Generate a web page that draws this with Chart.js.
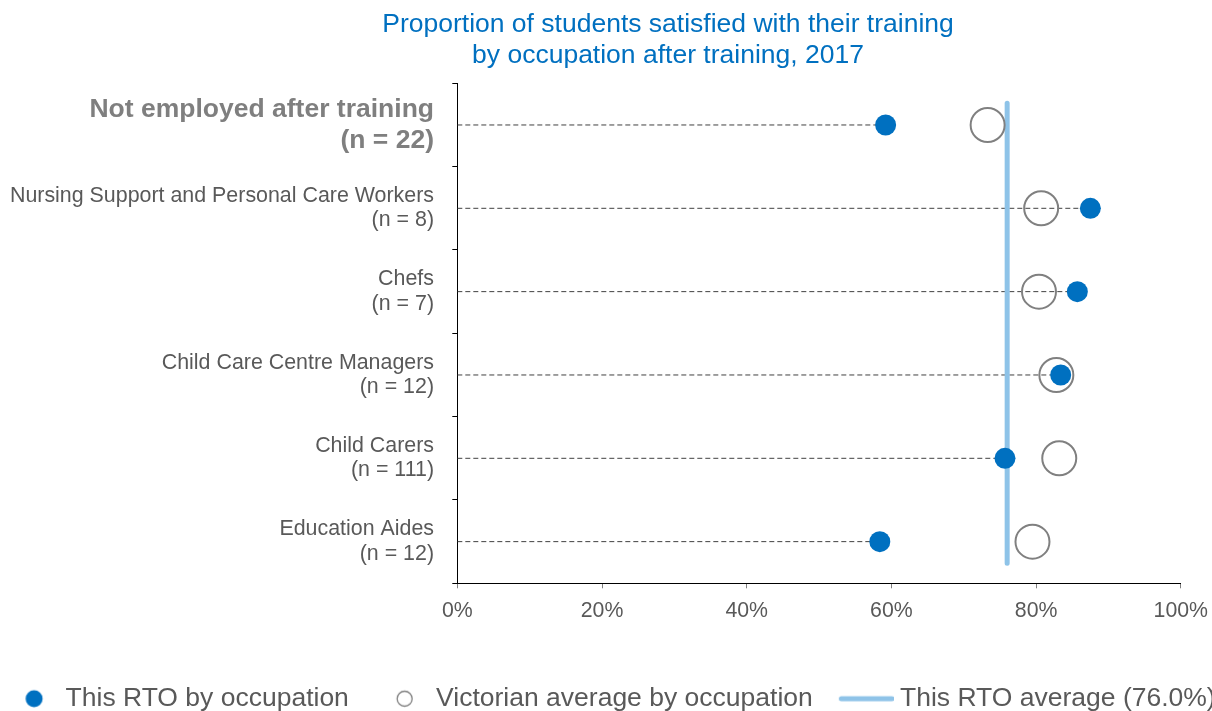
<!DOCTYPE html>
<html>
<head>
<meta charset="utf-8">
<title>Proportion of students satisfied with their training</title>
<style>
  html, body { margin: 0; padding: 0; background: #fff; overflow: hidden; }
  #wrap { position: absolute; left: -40px; top: 0; width: 1280px; height: 726px; }
</style>
</head>
<body>
<div id="wrap"><canvas id="chart" width="1280" height="726"></canvas></div>
<script src="https://cdn.jsdelivr.net/npm/chart.js@4.4.1/dist/chart.umd.min.js"></script>
<script>
const occupations = [
  'Not employed after training',
  'Nursing Support and Personal Care Workers',
  'Chefs',
  'Child Care Centre Managers',
  'Child Carers',
  'Education Aides'
];
const sampleSizes = [22, 8, 7, 12, 111, 12];
const rtoValues = [59.2, 87.5, 85.7, 83.4, 75.7, 58.4];
const vicValues = [73.3, 80.7, 80.4, 82.8, 83.2, 79.5];
const rtoAverage = 76.0;

Chart.defaults.font.family = '"Liberation Sans", Arial, sans-serif';

// dashed leader from 0 to each RTO dot, null points break the line between rows
const connectorData = occupations.flatMap((o, i) => [
  { x: 0, y: o },
  { x: rtoValues[i], y: o },
  { x: null, y: o }
]);

function legendIcon(w, draw) {
  const c = document.createElement('canvas');
  c.width = w;
  c.height = 22;
  draw(c.getContext('2d'));
  return c;
}
const legendIcons = [
  legendIcon(68, g => {
    g.fillStyle = '#0070C0';
    g.beginPath(); g.arc(49.75, 11, 8.5, 0, Math.PI * 2); g.fill();
  }),
  legendIcon(68, g => {
    g.strokeStyle = '#808080'; g.lineWidth = 1.3;
    g.beginPath(); g.arc(49.75, 11, 7.5, 0, Math.PI * 2); g.stroke();
  }),
  legendIcon(82, g => {
    g.strokeStyle = '#8EC3E8'; g.lineWidth = 5; g.lineCap = 'round';
    g.beginPath(); g.moveTo(29.5, 11); g.lineTo(80, 11); g.stroke();
  })
];

// the title in the original sits left of the canvas centre
const titleShift = {
  id: 'titleShift',
  afterLayout(chart) {
    const t = chart.titleBlock;
    const d = 708 - (t.left + t.right) / 2;
    t.left += d;
    t.right += d;
  }
};

new Chart(document.getElementById('chart'), {
  type: 'line',
  data: {
    labels: occupations,
    datasets: [
      {
        label: 'This RTO by occupation',
        data: rtoValues,
        showLine: false,
        pointRadius: 10.5,
        pointBackgroundColor: '#0070C0',
        pointBorderWidth: 0
      },
      {
        label: 'Victorian average by occupation',
        data: vicValues,
        showLine: false,
        pointRadius: 17,
        pointBackgroundColor: 'rgba(0,0,0,0)',
        pointBorderColor: '#808080',
        pointBorderWidth: 2
      },
      {
        label: 'This RTO average (' + rtoAverage.toFixed(1) + '%)',
        data: [{ x: rtoAverage, y: 0.24 }, { x: rtoAverage, y: 5.76 }],
        yAxisID: 'y2',
        borderColor: '#8EC3E8',
        borderWidth: 5,
        borderCapStyle: 'round',
        pointRadius: 0
      },
      {
        label: '',
        data: connectorData,
        borderColor: '#404040',
        borderWidth: 1,
        borderDash: [5, 3],
        pointRadius: 0,
        spanGaps: false
      }
    ]
  },
  options: {
    responsive: false,
    animation: false,
    events: [],
    indexAxis: 'y',
    layout: { padding: { top: 9, bottom: 4, left: 0, right: 0 } },
    scales: {
      x: {
        type: 'linear',
        position: 'bottom',
        min: 0,
        max: 100,
        ticks: {
          stepSize: 20,
          callback: v => v + '%',
          color: '#595959',
          font: { size: 21.3 },
          padding: 10
        },
        grid: { drawOnChartArea: false, color: '#808080', tickLength: 5 },
        border: { color: '#000', width: 1 },
        afterFit: s => { s.height = 96.2; }
      },
      y: {
        type: 'category',
        offset: true,
        grid: { offset: true, drawOnChartArea: false, color: '#000', tickLength: 5 },
        border: { color: '#000', width: 1 },
        ticks: {
          autoSkip: false,
          padding: 18.3,
          callback: (v, i) => [occupations[i], '(n = ' + sampleSizes[i] + ')'],
          color: c => c.index === 0 ? '#7F7F7F' : '#595959',
          font: c => c.index === 0
            ? { size: 26.5, weight: 'bold', lineHeight: 1.17 }
            : { size: 21.4, lineHeight: 1.13 }
        },
        afterFit: s => { s.width = 497.3; }
      },
      y2: {
        type: 'linear',
        position: 'right',
        min: 0,
        max: 6,
        reverse: true,
        ticks: { display: false },
        grid: { display: false },
        border: { display: false },
        afterFit: s => { s.width = 59.2; }
      }
    },
    plugins: {
      title: {
        display: true,
        text: ['Proportion of students satisfied with their training', 'by occupation after training, 2017'],
        color: '#0070C0',
        font: { size: 26.5, weight: 'normal', lineHeight: 1.17 },
        padding: { top: 0, bottom: 12.3 }
      },
      legend: {
        position: 'bottom',
        labels: {
          usePointStyle: true,
          pointStyleWidth: 68,
          padding: 6,
          color: '#595959',
          font: { size: 26.5 },
          filter: item => item.text !== '',
          generateLabels: chart => Chart.defaults.plugins.legend.labels.generateLabels(chart)
            .map(item => Object.assign({}, item, { pointStyle: legendIcons[item.datasetIndex] }))
        }
      },
      tooltip: { enabled: false }
    }
  },
  plugins: [titleShift]
});
</script>
</body>
</html>
